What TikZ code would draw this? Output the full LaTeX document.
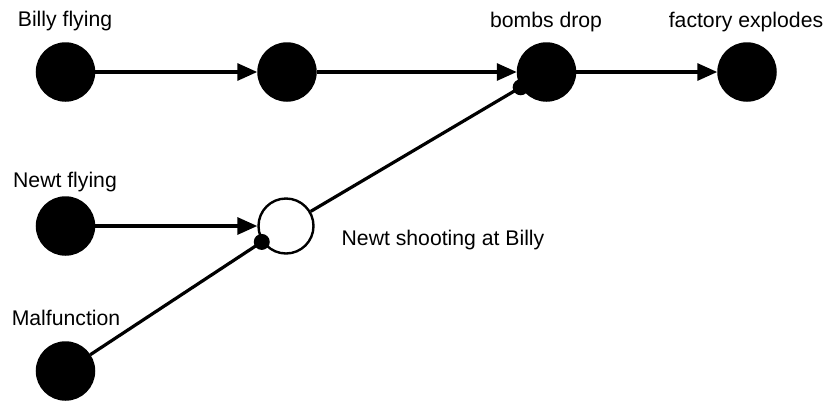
\documentclass[tikz,border=0pt]{standalone}
\usepackage{fontspec}
\setmainfont{Liberation Sans}
\usetikzlibrary{arrows.meta,calc}
\begin{document}
\begin{tikzpicture}[x=1pt,y=-1pt,
  event/.style={circle,fill=black,draw=black,line width=1.5pt,minimum size=58pt,inner sep=0pt},
  hollow/.style={circle,fill=white,draw=black,line width=2.4pt,minimum size=55pt,inner sep=0pt},
  lbl/.style={font=\fontsize{21.2}{24}\selectfont,inner sep=0pt,anchor=center},
  cause/.style={line width=3.2pt,-{Triangle[length=20pt,width=17pt]}},
  enable/.style={line width=3.2pt},
  enddot/.style={circle,fill=black,inner sep=0pt,minimum size=16pt}]
\useasboundingbox (0,0) rectangle (830,400);
\node[event] (b1) at (65.5,72) {};
\node[event] (b2) at (287,72) {};
\node[event] (bd) at (546.5,72) {};
\node[event] (fe) at (747,72) {};
\node[event] (nf) at (65.5,226) {};
\node[hollow] (ns) at (286,226) {};
\node[event] (mf) at (65.5,371) {};
\node[lbl] (lb1) at (65,21) {Billy flying};
\node[lbl] (lbd) at (546,22) {bombs drop};
\node[lbl] (lfe) at (746,22) {factory explodes};
\node[lbl] (lnf) at (65,182) {Newt flying};
\node[lbl] (lns) at (443,240) {Newt shooting at Billy};
\node[lbl] (lmf) at (66,318) {Malfunction};
\coordinate (d1) at ($(ns)!29pt!(mf)$);
\coordinate (d2) at ($(bd)!30pt!(ns)$);
\draw[cause] (b1) -- (b2);
\draw[cause] (b2) -- (bd);
\draw[cause] (bd) -- (fe);
\draw[cause] (nf) -- (ns);
\draw[enable] (mf) -- (d1);
\draw[enable] (ns) -- (d2);
\node[enddot] (e1) at (d1) {};
\node[enddot] (e2) at (d2) {};
\end{tikzpicture}
\end{document}
